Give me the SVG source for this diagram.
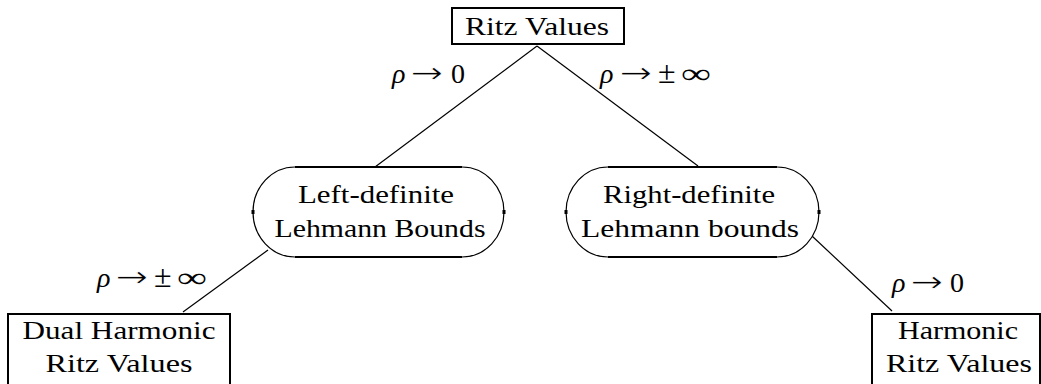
<svg xmlns="http://www.w3.org/2000/svg" width="1041" height="384" viewBox="0 0 1041 384">
<style>
  text { font-family: "Liberation Serif", "DejaVu Serif", serif; font-size: 26px; fill: #000; text-anchor: middle; }
  .lbl { text-anchor: start; font-size: 28px; }
  .m { font-style: italic; }
  .pm { font-size: 32px; }
  .ar { font-family: "DejaVu Sans", sans-serif; font-size: 30px; stroke: #fff; stroke-width: 0.8px; }
  .box { fill: #fff; stroke: #000; stroke-width: 2; }
  .stad { fill: #fff; stroke: #000; stroke-width: 1.2; }
  .flat { stroke: #000; stroke-width: 2.2; }
  .tick { stroke: #000; stroke-width: 3; }
  .edge { stroke: #000; stroke-width: 1.2; fill: none; }
</style>
<rect width="1041" height="384" fill="#fff"/>
<g id="connectors">
  <line class="edge" x1="537" y1="46" x2="375" y2="167"/>
  <line class="edge" x1="537" y1="46" x2="698" y2="166"/>
  <line class="edge" x1="268" y1="250" x2="183" y2="312"/>
  <line class="edge" x1="812" y1="236" x2="892" y2="311"/>
  <text class="lbl" y="83"><tspan class="m" x="392">ρ</tspan> <tspan class="ar" x="410" textLength="33" lengthAdjust="spacingAndGlyphs">→</tspan> <tspan x="451">0</tspan></text>
  <text class="lbl" y="83"><tspan class="m" x="600">ρ</tspan> <tspan class="ar" x="619" textLength="33" lengthAdjust="spacingAndGlyphs">→</tspan> <tspan class="pm" x="658">±</tspan><tspan x="681" textLength="30" lengthAdjust="spacingAndGlyphs">∞</tspan></text>
  <text class="lbl" y="287"><tspan class="m" x="97">ρ</tspan> <tspan class="ar" x="115" textLength="33" lengthAdjust="spacingAndGlyphs">→</tspan> <tspan class="pm" x="154">±</tspan><tspan x="177" textLength="30" lengthAdjust="spacingAndGlyphs">∞</tspan></text>
  <text class="lbl" y="292"><tspan class="m" x="892">ρ</tspan> <tspan class="ar" x="910" textLength="33" lengthAdjust="spacingAndGlyphs">→</tspan> <tspan x="950">0</tspan></text>
</g>
<g id="ritz">
  <rect class="box" x="452" y="8" width="172" height="36"/>
  <text x="537" y="35" textLength="144" lengthAdjust="spacingAndGlyphs">Ritz Values</text>
</g>
<g id="left-definite">
  <path class="stad" d="M295 167 H462 A42 45 0 0 1 462 257 H295 A42 45 0 0 1 295 167 Z"/>
  <line class="flat" x1="295" y1="167" x2="462" y2="167"/>
  <line class="flat" x1="295" y1="257" x2="462" y2="257"/>
  <line class="tick" x1="253" y1="210" x2="253" y2="214"/>
  <line class="tick" x1="504" y1="210" x2="504" y2="214"/>
  <text x="376" y="203" textLength="156" lengthAdjust="spacingAndGlyphs">Left-definite</text>
  <text x="380" y="237" textLength="211" lengthAdjust="spacingAndGlyphs">Lehmann Bounds</text>
</g>
<g id="right-definite">
  <path class="stad" d="M608 167 H777 A42 45 0 0 1 777 257 H608 A42 45 0 0 1 608 167 Z"/>
  <line class="flat" x1="608" y1="167" x2="777" y2="167"/>
  <line class="flat" x1="608" y1="257" x2="777" y2="257"/>
  <line class="tick" x1="566" y1="210" x2="566" y2="214"/>
  <line class="tick" x1="819" y1="210" x2="819" y2="214"/>
  <text x="689" y="203" textLength="172" lengthAdjust="spacingAndGlyphs">Right-definite</text>
  <text x="690" y="237" textLength="218" lengthAdjust="spacingAndGlyphs">Lehmann bounds</text>
</g>
<g id="dual-harmonic">
  <rect class="box" x="8" y="314" width="222" height="80"/>
  <text x="119" y="339" textLength="193" lengthAdjust="spacingAndGlyphs">Dual Harmonic</text>
  <text x="119" y="372" textLength="147" lengthAdjust="spacingAndGlyphs">Ritz Values</text>
</g>
<g id="harmonic">
  <rect class="box" x="872" y="314" width="168" height="80"/>
  <text x="958" y="339" textLength="120" lengthAdjust="spacingAndGlyphs">Harmonic</text>
  <text x="959" y="372" textLength="146" lengthAdjust="spacingAndGlyphs">Ritz Values</text>
</g>
</svg>
